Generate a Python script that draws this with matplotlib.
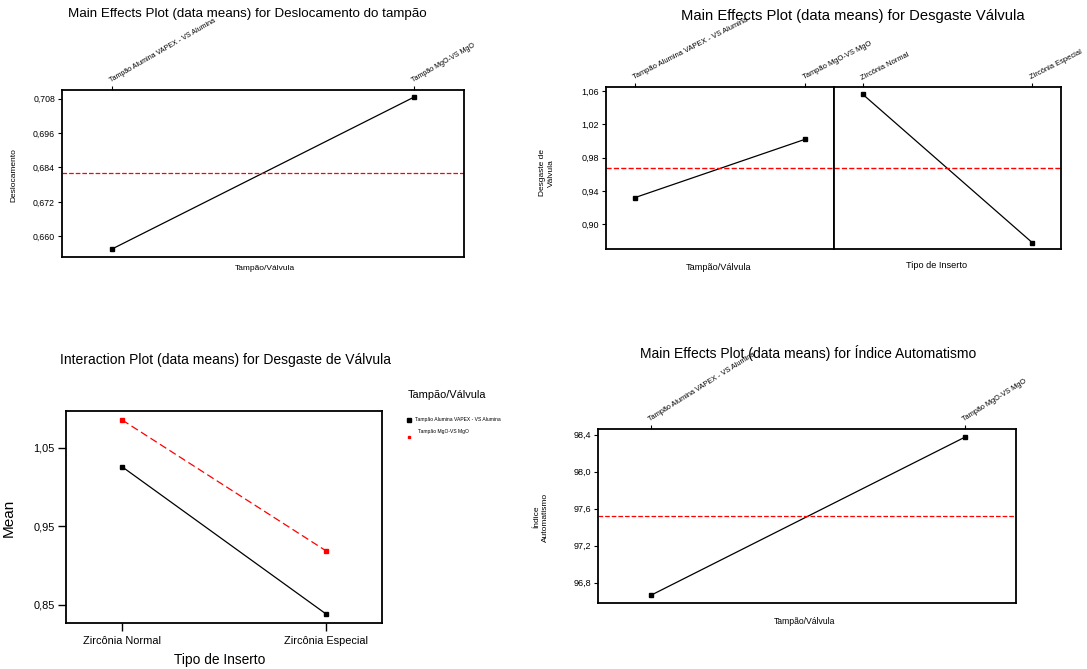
import matplotlib
matplotlib.use("Agg")
import matplotlib.pyplot as plt
from matplotlib.ticker import FuncFormatter
from matplotlib.lines import Line2D

plt.rcParams['font.family'] = ['Liberation Sans', 'DejaVu Sans']

# ---------------- data ----------------
tampao_levels = ["Tampão Alumina VAPEX - VS Alumina", "Tampão MgO-VS MgO"]
inserto_levels = ["Zircônia Normal", "Zircônia Especial"]

deslocamento_means = [0.6556, 0.7085]
deslocamento_grand = 0.682

desgaste_tampao_means = [0.932, 1.002]
desgaste_inserto_means = [1.056, 0.878]
desgaste_grand = 0.967

interaction_alumina = [1.026, 0.8386]
interaction_mgo = [1.0856, 0.919]

automatismo_means = [96.664, 98.37]
automatismo_grand = 97.517

W, H = 1087, 669
fig = plt.figure(figsize=(W / 100, H / 100), dpi=100)


def axes_px(x0, y0, x1, y1):
    return fig.add_axes([x0 / W, 1 - y1 / H, (x1 - x0) / W, (y1 - y0) / H])


def comma(fmt):
    return FuncFormatter(lambda v, p: format(v, fmt).replace('.', ','))


def frame(ax, lw=1.3):
    for s in ax.spines.values():
        s.set_linewidth(lw)
        s.set_color('black')


xpos = [1, 2]

# ---------------- Panel 1 ----------------
ax1 = axes_px(62, 90, 464, 257)
ax1.plot(xpos, deslocamento_means, color='black', lw=0.9, marker='s', ms=3)
ax1.axhline(deslocamento_grand, color='red', ls='--', lw=0.9)
ax1.set_xlim(0.834, 2.166)
ax1.set_ylim(0.6528, 0.7110)
ax1.set_yticks([0.660, 0.672, 0.684, 0.696, 0.708])
ax1.yaxis.set_major_formatter(comma('.3f'))
ax1.xaxis.tick_top()
ax1.set_xticks(xpos)
ax1.set_xticklabels(tampao_levels, rotation=30, ha='left', rotation_mode='anchor', fontsize=5.1)
ax1.tick_params(axis='x', length=3, width=0.8, pad=1)
ax1.tick_params(axis='y', labelsize=6.3, length=3, width=0.8, pad=2)
frame(ax1)
fig.text(247 / W, 1 - 14 / H, "Main Effects Plot (data means) for Deslocamento do tampão",
         fontsize=9.6, ha='center', va='center')
fig.text(265 / W, 1 - 268 / H, "Tampão/Válvula", fontsize=6, ha='center', va='center')
fig.text(14 / W, 1 - 175 / H, "Deslocamento", fontsize=6, ha='center', va='center', rotation=90)

# ---------------- Panel 2 ----------------
ax2a = axes_px(606, 87, 834, 249)
ax2b = axes_px(834, 87, 1061, 249)
ax2a.plot(xpos, desgaste_tampao_means, color='black', lw=0.9, marker='s', ms=3)
ax2b.plot(xpos, desgaste_inserto_means, color='black', lw=0.9, marker='s', ms=3)
for ax, labels in ((ax2a, tampao_levels), (ax2b, inserto_levels)):
    ax.axhline(desgaste_grand, color='red', ls='--', lw=1.0)
    ax.set_xlim(0.83, 2.17)
    ax.set_ylim(0.8703, 1.0648)
    ax.xaxis.tick_top()
    ax.set_xticks(xpos)
    ax.set_xticklabels(labels, rotation=27, ha='left', rotation_mode='anchor', fontsize=5.4)
    ax.tick_params(axis='x', length=3, width=0.8, pad=1)
    frame(ax)
ax2a.set_yticks([0.90, 0.94, 0.98, 1.02, 1.06])
ax2a.yaxis.set_major_formatter(comma('.2f'))
ax2a.tick_params(axis='y', labelsize=6.5, length=3, width=0.8, pad=2)
ax2b.set_yticks([])
fig.text(853 / W, 1 - 16 / H, "Main Effects Plot (data means) for Desgaste Válvula",
         fontsize=10.6, ha='center', va='center')
fig.text(719 / W, 1 - 268 / H, "Tampão/Válvula", fontsize=6.6, ha='center', va='center')
fig.text(937 / W, 1 - 266 / H, "Tipo de Inserto", fontsize=6.6, ha='center', va='center')
fig.text(547 / W, 1 - 173 / H, "Desgaste de\nVálvula", fontsize=6, ha='center', va='center',
         rotation=90, multialignment='center')

# ---------------- Panel 3 ----------------
ax3 = axes_px(66, 411, 382, 623)
ax3.plot(xpos, interaction_alumina, color='black', lw=0.9, marker='s', ms=3.2)
ax3.plot(xpos, interaction_mgo, color='red', lw=0.9, ls=(0, (6, 3)), marker='s', ms=2.2)
ax3.set_xlim(0.725, 2.275)
ax3.set_ylim(0.827, 1.097)
ax3.set_yticks([0.85, 0.95, 1.05])
ax3.yaxis.set_major_formatter(comma('.2f'))
ax3.set_xticks(xpos)
ax3.set_xticklabels(inserto_levels, fontsize=7.9)
ax3.tick_params(axis='both', length=6, width=1.0, direction='out')
ax3.tick_params(axis='y', labelsize=7.9, pad=2)
ax3.tick_params(axis='x', pad=3)
frame(ax3, 1.3)
fig.text(225 / W, 1 - 360 / H, "Interaction Plot (data means) for Desgaste de Válvula",
         fontsize=10, ha='center', va='center')
fig.text(220 / W, 1 - 660 / H, "Tipo de Inserto", fontsize=9.9, ha='center', va='center')
fig.text(9 / W, 1 - 518 / H, "Mean", fontsize=11, ha='center', va='center', rotation=90)
fig.text(408 / W, 1 - 395 / H, "Tampão/Válvula", fontsize=7.9, ha='left', va='center')
fig.add_artist(Line2D([409 / W], [1 - 420 / H], marker='s', ms=2.5, color='black',
                      transform=fig.transFigure, linestyle='none'))
fig.add_artist(Line2D([409 / W], [1 - 437 / H], marker='s', ms=2, color='red',
                      transform=fig.transFigure, linestyle='none'))
fig.text(415 / W, 1 - 420 / H, tampao_levels[0], fontsize=3.6, ha='left', va='center')
fig.text(418 / W, 1 - 432 / H, tampao_levels[1], fontsize=3.6, ha='left', va='center')

# ---------------- Panel 4 ----------------
ax4 = axes_px(598, 429, 1016, 603)
ax4.plot(xpos, automatismo_means, color='black', lw=0.9, marker='s', ms=3)
ax4.axhline(automatismo_grand, color='red', ls='--', lw=0.9)
ax4.set_xlim(0.831, 2.164)
ax4.set_ylim(96.58, 98.46)
ax4.set_yticks([96.8, 97.2, 97.6, 98.0, 98.4])
ax4.yaxis.set_major_formatter(comma('.1f'))
ax4.xaxis.tick_top()
ax4.set_xticks(xpos)
ax4.set_xticklabels(tampao_levels, rotation=32, ha='left', rotation_mode='anchor', fontsize=5.3)
ax4.tick_params(axis='x', length=3, width=0.8, pad=1)
ax4.tick_params(axis='y', labelsize=6.5, length=3, width=0.8, pad=2)
frame(ax4)
fig.text(808 / W, 1 - 353 / H, "Main Effects Plot (data means) for Índice Automatismo",
         fontsize=10, ha='center', va='center')
fig.text(804 / W, 1 - 621 / H, "Tampão/Válvula", fontsize=6.2, ha='center', va='center')
fig.text(541 / W, 1 - 517 / H, "Índice\nAutomatismo", fontsize=6, ha='center', va='center',
         rotation=90, multialignment='center')

fig.savefig("out.png", dpi=100)
